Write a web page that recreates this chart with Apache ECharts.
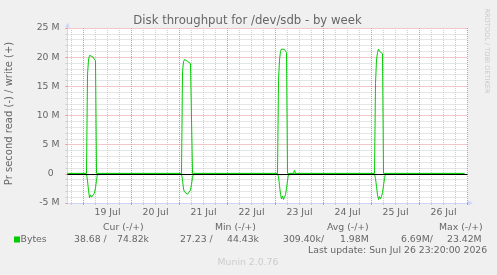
<!DOCTYPE html>
<html>
<head>
<meta charset="utf-8">
<script src="https://cdn.jsdelivr.net/npm/echarts@6/dist/echarts.min.js"></script>
<style>
  html, body { margin: 0; padding: 0; background: #f0f0f0; }
  #chart { width: 497px; height: 275px; }
</style>
</head>
<body>
<div id="chart"></div>
<script>
// hours counted from 19 Jul 00:00, values in MB/s
const dayLabels = ["19 Jul", "20 Jul", "21 Jul", "22 Jul", "23 Jul", "24 Jul", "25 Jul", "26 Jul"];
const yTicks = [-5, 0, 5, 10, 15, 20, 25];

// write (+)
const writeData = [
  [-8, 0.08], [1.5, 0.08], [2, 17.0], [2.5, 19.5], [3, 20.3], [3.5, 20.1], [4, 20.4], [4.5, 20.1], [5, 20.2], [5.5, 19.9], [6, 19.4], [6.5, 0.08],
  [49, 0.08], [49.5, 17.5], [50, 19.2], [50.5, 19.6], [51, 19.8], [51.5, 19.5], [52, 19.3], [52.5, 19.3], [53, 19.0], [53.5, 18.9], [54, 18.8], [54.5, 0.08],
  [97, 0.08], [97.5, 16.0], [98, 19.5], [98.5, 21.0], [99, 21.4], [99.5, 21.2], [100, 21.5], [100.5, 21.3], [101, 21.1], [101.5, 20.8], [102, 0.08],
  [105, 0.08], [105.5, 0.6], [106, 0.08],
  [145.5, 0.08], [146, 15.5], [146.5, 19.5], [147, 20.8], [147.5, 21.4], [148, 21.0], [148.5, 21.3], [149, 21.1], [149.5, 20.6], [150, 0.08],
  [190.5, 0.08]
];

// read (-)
const readData = [
  [-8, 0], [1.5, 0], [2, -1.2], [2.5, -2.8], [3, -4.1], [3.5, -3.6], [4, -4.0], [4.5, -3.7], [5, -3.9], [5.5, -3.3], [6, -2.4], [6.5, -1.1], [7, 0],
  [49, 0], [49.5, -1.0], [50, -2.6], [50.5, -3.1], [51, -3.4], [51.5, -3.1], [52, -3.5], [52.5, -3.6], [53, -3.4], [53.5, -2.8], [54, -1.8], [54.5, -0.6], [55, 0],
  [97, 0], [97.5, -0.5], [98, -2.0], [98.5, -3.5], [99, -4.3], [99.5, -3.8], [100, -4.4], [100.5, -4.0], [101, -3.6], [101.5, -2.5], [102, -1.2], [102.5, 0],
  [145.5, 0], [146, -0.8], [146.5, -2.2], [147, -3.6], [147.5, -4.4], [148, -3.9], [148.5, -4.3], [149, -3.9], [149.5, -3.2], [150, -2.0], [150.5, -0.8], [151, 0],
  [190.5, 0]
];

const legendHeaders = ["Cur (-/+)", "Min (-/+)", "Avg (-/+)", "Max (-/+)"];
const readStats = ["38.68 /", "27.23 /", "309.40k/", "6.69M/"];
const writeStats = ["74.82k", "44.43k", "1.98M", "23.42M"];

const FONT = "DejaVu Sans";
const TEXT = "#666666";
const AXIS = "#cfd6f8";
const MAJOR = "#e29090";
const MINOR = "#cccccc";

const dayLines = dayLabels.map((d, i) => i * 24).concat([dayLabels.length * 24]);
const noonHours = dayLabels.map((d, i) => i * 24 + 12);
const minorHours = [];
for (let h = -6; h <= 192; h += 6) {
  if (h % 24 !== 0) minorHours.push(h);
}

const chart = echarts.init(document.getElementById("chart"));

const headerX = [103, 215, 327, 439];
const readX = [74, 180, 283, 401];
const writeX = [117, 227, 340, 447];

const txt = (x, y, s, extra) => ({
  type: "text",
  x: x,
  y: y,
  silent: true,
  style: Object.assign({
    text: s,
    fill: TEXT,
    font: "9.3px " + FONT,
    textVerticalAlign: "middle"
  }, extra || {})
});

const graphics = [
  txt(247.5, 20.5, "Disk throughput for /dev/sdb - by week", { font: "11.7px " + FONT, textAlign: "center" }),
  Object.assign(txt(9.5, 113.5, "Pr second read (-) / write (+)", { font: "10px " + FONT, textAlign: "center" }), { rotation: Math.PI / 2 }),
  Object.assign(txt(487, 51, "RRDTOOL / TOBI OETIKER", { font: "6.6px " + FONT, textAlign: "center", fill: "#c8c8c8" }), { rotation: -Math.PI / 2 }),
  { type: "rect", shape: { x: 14, y: 236.5, width: 6, height: 6 }, style: { fill: "#00cc00" }, silent: true },
  txt(20.5, 239.5, "Bytes"),
  txt(308, 251, "Last update: Sun Jul 26 23:20:00 2026"),
  txt(248, 263, "Munin 2.0.76", { textAlign: "center", fill: "#cccccc" })
];
legendHeaders.forEach((s, i) => graphics.push(txt(headerX[i], 227.5, s)));
readStats.forEach((s, i) => graphics.push(txt(readX[i], 239.5, s)));
writeStats.forEach((s, i) => graphics.push(txt(writeX[i], 239.5, s)));

const arrowLine = {
  show: true, onZero: false,
  symbol: ["none", "triangle"], symbolSize: [5, 5], symbolOffset: [0, 3],
  lineStyle: { color: AXIS, width: 1 }
};

const option = {
  backgroundColor: "#f0f0f0",
  animation: false,
  grid: {
    left: 67.5, right: 29.5, top: 28, bottom: 72,
    show: true, backgroundColor: "#ffffff", borderWidth: 0
  },
  xAxis: [
    {
      type: "value", min: -8, max: 192, position: "bottom",
      axisLine: arrowLine,
      axisTick: { show: true, customValues: minorHours, length: 2, lineStyle: { color: MINOR } },
      axisLabel: { show: false },
      splitLine: { show: true, lineStyle: { color: MINOR, type: "dotted", width: 1 } }
    },
    {
      type: "value", min: -8, max: 192, position: "bottom",
      axisLine: { show: false, onZero: false },
      axisTick: { show: true, customValues: dayLines, length: 2, lineStyle: { color: MAJOR } },
      axisLabel: {
        show: true, customValues: noonHours, margin: 5,
        color: TEXT, fontFamily: FONT, fontSize: 9.3,
        formatter: (v) => dayLabels[Math.round((v - 12) / 24)]
      },
      splitLine: { show: true, lineStyle: { color: MAJOR, type: "dotted", width: 1 } }
    }
  ],
  yAxis: {
    type: "value", min: yTicks[0], max: yTicks[yTicks.length - 1], interval: 5,
    axisLine: arrowLine,
    axisTick: { show: true, length: 2, lineStyle: { color: MAJOR } },
    minorTick: { show: true, splitNumber: 5, length: 2, lineStyle: { color: MINOR } },
    axisLabel: {
      margin: 8, color: TEXT, fontFamily: FONT, fontSize: 9.3,
      formatter: (v) => (v === 0 ? "0\u2007" : v + " M")
    },
    splitLine: { show: true, lineStyle: { color: MAJOR, type: "dotted", width: 1 } },
    minorSplitLine: { show: true, lineStyle: { color: MINOR, type: "dotted", width: 1 } }
  },
  series: [
    {
      name: "read", type: "line", xAxisIndex: 0, data: readData,
      showSymbol: false, z: 2,
      lineStyle: { color: "#00cc00", width: 1 },
      markLine: {
        silent: true, symbol: "none", label: { show: false },
        lineStyle: { color: "#000000", width: 1, type: "solid" },
        data: [{ yAxis: 0 }]
      }
    },
    {
      name: "write", type: "line", xAxisIndex: 0, data: writeData,
      showSymbol: false, z: 6,
      lineStyle: { color: "#00cc00", width: 1 }
    }
  ],
  graphic: graphics
};

chart.setOption(option);
</script>
</body>
</html>
